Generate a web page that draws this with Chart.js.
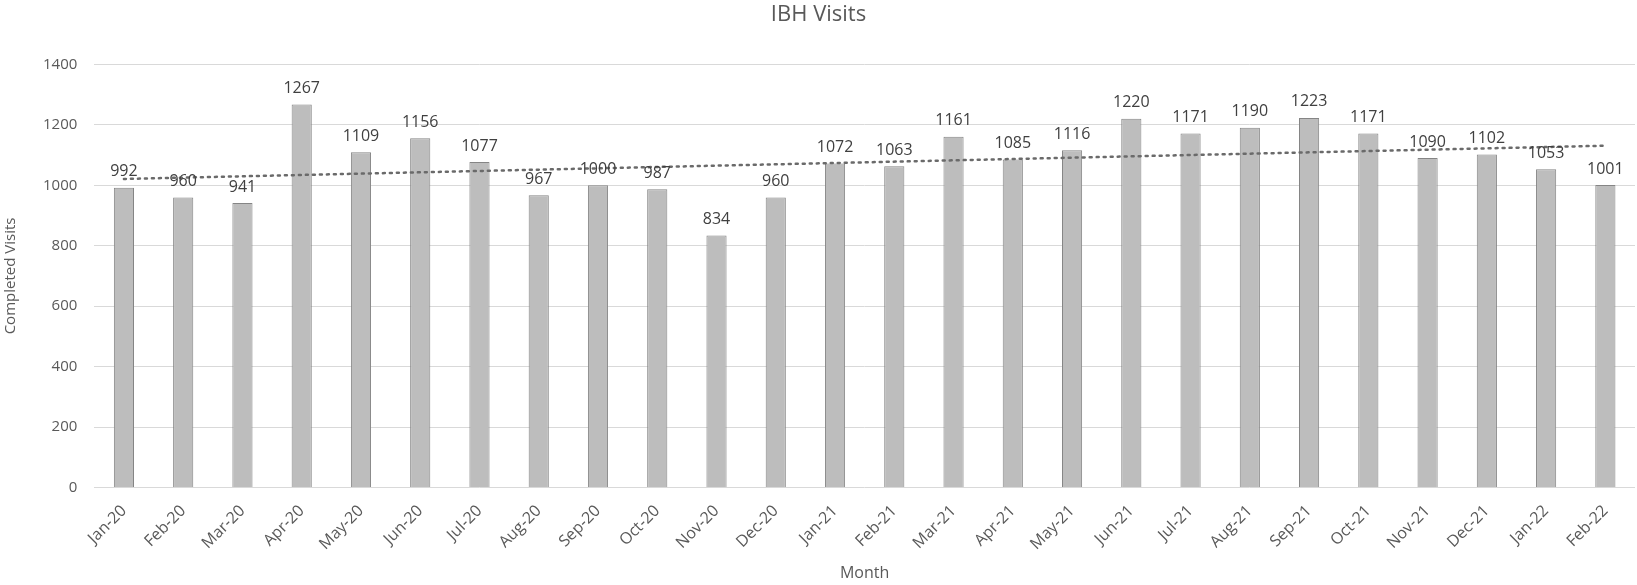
<!DOCTYPE html>
<html lang="en">
<head>
    <meta charset="UTF-8">
    <title>IBH Visits</title>
    <script src="https://cdn.jsdelivr.net/npm/chart.js"></script>
    <style>
        html, body {
            margin: 0;
            padding: 0;
            background: #fff;
        }
        #wrap {
            width: 1637px;
            height: 585px;
        }
    </style>
</head>
<body>
    <div id="wrap"><canvas id="visitsChart"></canvas></div>
    <script>
        const months = ['Jan-20', 'Feb-20', 'Mar-20', 'Apr-20', 'May-20', 'Jun-20', 'Jul-20', 'Aug-20',
            'Sep-20', 'Oct-20', 'Nov-20', 'Dec-20', 'Jan-21', 'Feb-21', 'Mar-21', 'Apr-21', 'May-21',
            'Jun-21', 'Jul-21', 'Aug-21', 'Sep-21', 'Oct-21', 'Nov-21', 'Dec-21', 'Jan-22', 'Feb-22'];
        const visits = [992, 960, 941, 1267, 1109, 1156, 1077, 967, 1000, 987, 834, 960, 1072,
            1063, 1161, 1085, 1116, 1220, 1171, 1190, 1223, 1171, 1090, 1102, 1053, 1001];
        // dotted trend line, ends
        const trendMonths = ['Jan-20', 'Feb-22'];
        const trendValues = [1021, 1131];
        const yTicks = [0, 200, 400, 600, 800, 1000, 1200, 1400];

        const textColor = '#595959';
        const fontFamily = "'Open Sans', sans-serif";

        // draws the value above each bar
        const barLabels = {
            id: 'barLabels',
            afterDatasetsDraw(chart) {
                const ctx = chart.ctx;
                const meta = chart.getDatasetMeta(0);
                ctx.save();
                ctx.font = '16px ' + fontFamily;
                ctx.fillStyle = '#404040';
                ctx.textAlign = 'center';
                ctx.textBaseline = 'bottom';
                meta.data.forEach((bar, i) => {
                    ctx.fillText(String(visits[i]), bar.x, bar.y - 8);
                });
                ctx.restore();
            }
        };

        new Chart(document.getElementById('visitsChart'), {
            type: 'bar',
            data: {
                labels: months,
                datasets: [{
                    type: 'bar',
                    label: 'Completed Visits',
                    data: visits,
                    backgroundColor: '#bdbdbd',
                    borderColor: '#858585',
                    borderWidth: 1,
                    barPercentage: 0.34,
                    categoryPercentage: 1,
                    order: 2
                }, {
                    type: 'line',
                    label: 'Trend',
                    data: trendMonths.map((m, i) => ({ x: m, y: trendValues[i] })),
                    borderColor: '#6a6a6a',
                    borderWidth: 2.5,
                    borderDash: [2, 5],
                    borderCapStyle: 'round',
                    pointRadius: 0,
                    fill: false,
                    order: 1
                }]
            },
            options: {
                responsive: true,
                maintainAspectRatio: false,
                animation: false,
                layout: {
                    padding: { left: 2, right: 2, top: 0, bottom: 2 }
                },
                plugins: {
                    legend: { display: false },
                    tooltip: { enabled: false },
                    title: {
                        display: true,
                        text: 'IBH Visits',
                        color: textColor,
                        font: { family: fontFamily, size: 22, weight: 'normal' },
                        padding: { top: 2, bottom: 36 }
                    }
                },
                scales: {
                    x: {
                        grid: { display: false },
                        border: { display: false },
                        ticks: {
                            color: textColor,
                            font: { family: fontFamily, size: 16 },
                            maxRotation: 45,
                            minRotation: 45,
                            padding: 6
                        },
                        title: {
                            display: true,
                            text: 'Month',
                            color: textColor,
                            font: { family: fontFamily, size: 16 },
                            padding: { top: 4, bottom: 0 }
                        }
                    },
                    y: {
                        min: 0,
                        max: 1400,
                        afterBuildTicks: (axis) => {
                            axis.ticks = yTicks.map(v => ({ value: v }));
                        },
                        grid: { color: '#d9d9d9', drawTicks: false },
                        border: { display: false },
                        ticks: {
                            color: textColor,
                            font: { family: fontFamily, size: 15 },
                            padding: 17,
                            callback: (v) => String(v)
                        },
                        title: {
                            display: true,
                            text: 'Completed Visits',
                            color: textColor,
                            font: { family: fontFamily, size: 15 },
                            padding: { top: 0, bottom: 6 }
                        }
                    }
                }
            },
            plugins: [barLabels]
        });
    </script>
</body>
</html>
